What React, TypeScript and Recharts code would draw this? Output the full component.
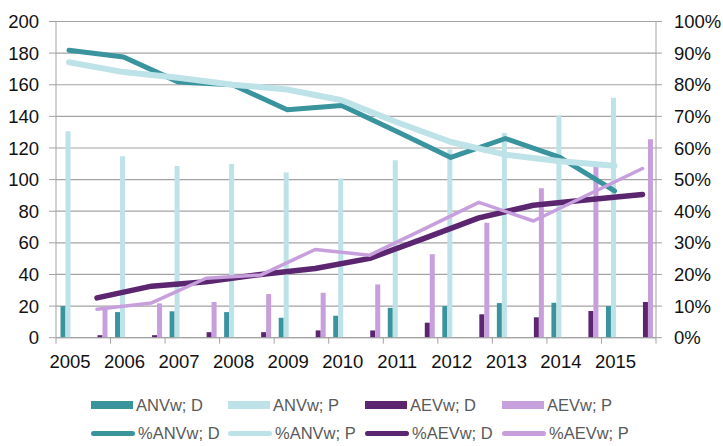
import React from 'react';
import { ComposedChart, Bar, Line, XAxis, YAxis, CartesianGrid } from 'recharts';

const years = ['2005', '2006', '2007', '2008', '2009', '2010', '2011', '2012', '2013', '2014', '2015'];

// bar series (left axis)
const anvD = [20.0, 16.2, 16.7, 16.2, 12.6, 13.9, 18.9, 20.0, 21.9, 22.1, 20.0];
const anvP = [130.6, 114.8, 108.6, 109.9, 104.5, 100.7, 112.3, 119.0, 129.5, 140.5, 151.8];
const aevD = [1.6, 1.6, 3.5, 3.5, 4.6, 4.6, 9.5, 14.8, 12.9, 16.9, 22.6];
const aevP = [18.5, 21.7, 22.6, 27.6, 28.4, 33.7, 52.8, 72.7, 94.5, 108.5, 125.5];

// line series (right axis, %)
const pctAnvD = [90.9, 88.8, 80.9, 80.0, 72.1, 73.4, 65.3, 57.0, 63.0, 57.0, 46.4];
const pctAnvP = [87.1, 84.0, 82.2, 80.0, 78.5, 75.1, 68.2, 61.9, 57.9, 55.8, 54.4];
const pctAevD = [12.6, 16.3, 17.7, 20.0, 21.9, 25.1, 31.4, 37.9, 41.9, 43.6, 45.3];
const pctAevP = [9.0, 11.0, 18.8, 19.8, 27.9, 26.1, 34.4, 42.8, 36.9, 45.2, 53.5];

const leftTicks = [0, 20, 40, 60, 80, 100, 120, 140, 160, 180, 200];
const rightTicks = [0, 10, 20, 30, 40, 50, 60, 70, 80, 90, 100];
// category boundaries (tick marks between years)
const frameTicks = [0, 1, 2, 3, 4, 5, 6, 7, 8, 9, 10, 11];

const TEAL = '#3a949e';
const LTEAL = '#bde2e7';
const DPURP = '#5b2570';
const LPURP = '#c79fdc';

const barLegend = [
  { name: 'ANVw; D', color: TEAL },
  { name: 'ANVw; P', color: LTEAL },
  { name: 'AEVw; D', color: DPURP },
  { name: 'AEVw; P', color: LPURP },
];
const lineLegend = [
  { name: '%ANVw; D', color: TEAL },
  { name: '%ANVw; P', color: LTEAL },
  { name: '%AEVw; D', color: DPURP },
  { name: '%AEVw; P', color: LPURP },
];

const data = years.map((year, i) => ({
  year,
  slot: i,
  anvD: anvD[i],
  anvP: anvP[i],
  aevD: aevD[i],
  aevP: aevP[i],
  pctAnvD: pctAnvD[i],
  pctAnvP: pctAnvP[i],
  pctAevD: pctAevD[i],
  pctAevP: pctAevP[i],
}));

const FONT = '"Liberation Sans", Arial, sans-serif';
const AXIS = '#a3a3a3';

const FrameTick = (props: any) => {
  const { x, y, payload } = props;
  const label = years[payload.value];
  if (!label) return <g />;
  return (
    <text x={x} y={y} dx={14} dy="0.71em" textAnchor="middle" fill="#111" fontSize={18.5} fontFamily={FONT}>
      {label}
    </text>
  );
};

export default function App() {
  return (
    <div style={{ position: 'absolute', left: 0, top: 0, width: 723, height: 446, background: '#fff', fontFamily: FONT }}>
      <ComposedChart width={723} height={446} data={data} margin={{ top: 21.5, right: 0, bottom: 78.3, left: 0 }} barGap={0}>
        <CartesianGrid vertical={false} stroke={AXIS} strokeWidth={1.2} xAxisId="frame" yAxisId="left" />
        <XAxis
          xAxisId="frame"
          dataKey="slot"
          type="number"
          domain={[0, 11]}
          ticks={frameTicks}
          interval={0}
          height={30}
          tickSize={6}
          tickMargin={11}
          stroke={AXIS}
          tick={<FrameTick />}
        />
        <XAxis xAxisId="bars" dataKey="year" hide height={0} />
        <XAxis xAxisId="anv" dataKey="year" scale="point" padding={{ left: 13, right: 41.5 }} hide height={0} />
        <XAxis xAxisId="aev" dataKey="year" scale="point" padding={{ left: 41, right: 13.5 }} hide height={0} />
        <YAxis
          yAxisId="left"
          domain={[0, 200]}
          ticks={leftTicks}
          interval={0}
          width={56}
          tickSize={7}
          tickMargin={10}
          stroke={AXIS}
          tick={{ fill: '#111', fontSize: 18.5, fontFamily: FONT }}
        />
        <YAxis
          yAxisId="right"
          orientation="right"
          domain={[0, 100]}
          ticks={rightTicks}
          interval={0}
          width={67}
          tickSize={6}
          tickMargin={12}
          stroke={AXIS}
          tickFormatter={(v: number) => `${v}%`}
          tick={{ fill: '#111', fontSize: 18.5, fontFamily: FONT }}
        />
        <Bar xAxisId="bars" yAxisId="left" dataKey="spacerA" barSize={1.5} fill="none" isAnimationActive={false} />
        <Bar xAxisId="bars" yAxisId="left" dataKey="anvD" barSize={5} fill={TEAL} isAnimationActive={false} />
        <Bar xAxisId="bars" yAxisId="left" dataKey="anvP" barSize={5} fill={LTEAL} isAnimationActive={false} />
        <Bar xAxisId="bars" yAxisId="left" dataKey="spacerB" barSize={27} fill="none" isAnimationActive={false} />
        <Bar xAxisId="bars" yAxisId="left" dataKey="aevD" barSize={5} fill={DPURP} isAnimationActive={false} />
        <Bar xAxisId="bars" yAxisId="left" dataKey="aevP" barSize={5} fill={LPURP} isAnimationActive={false} />
        <Line xAxisId="anv" yAxisId="right" dataKey="pctAnvD" stroke={TEAL} strokeWidth={5} dot={false} strokeLinecap="round" strokeLinejoin="round" isAnimationActive={false} />
        <Line xAxisId="anv" yAxisId="right" dataKey="pctAnvP" stroke={LTEAL} strokeWidth={6} dot={false} strokeLinecap="round" strokeLinejoin="round" isAnimationActive={false} />
        <Line xAxisId="aev" yAxisId="right" dataKey="pctAevD" stroke={DPURP} strokeWidth={5.5} dot={false} strokeLinecap="round" strokeLinejoin="round" isAnimationActive={false} />
        <Line xAxisId="aev" yAxisId="right" dataKey="pctAevP" stroke={LPURP} strokeWidth={3.5} dot={false} strokeLinecap="round" strokeLinejoin="round" isAnimationActive={false} />
      </ComposedChart>
      {[barLegend, lineLegend].map((row, r) =>
        row.map((item, c) => (
          <div
            key={item.name}
            style={{
              position: 'absolute',
              left: 91 + c * 137,
              top: (r === 0 ? 405 : 433) - 10,
              height: 20,
              display: 'flex',
              alignItems: 'center',
              whiteSpace: 'nowrap',
            }}
          >
            <div
              style={{
                width: r === 0 ? 42 : 44,
                height: r === 0 ? 8 : 5,
                borderRadius: r === 0 ? 0 : 3,
                background: item.color,
              }}
            />
            <span style={{ marginLeft: 3, fontSize: 16.5, color: '#595959', fontFamily: FONT }}>{item.name}</span>
          </div>
        ))
      )}
    </div>
  );
}
